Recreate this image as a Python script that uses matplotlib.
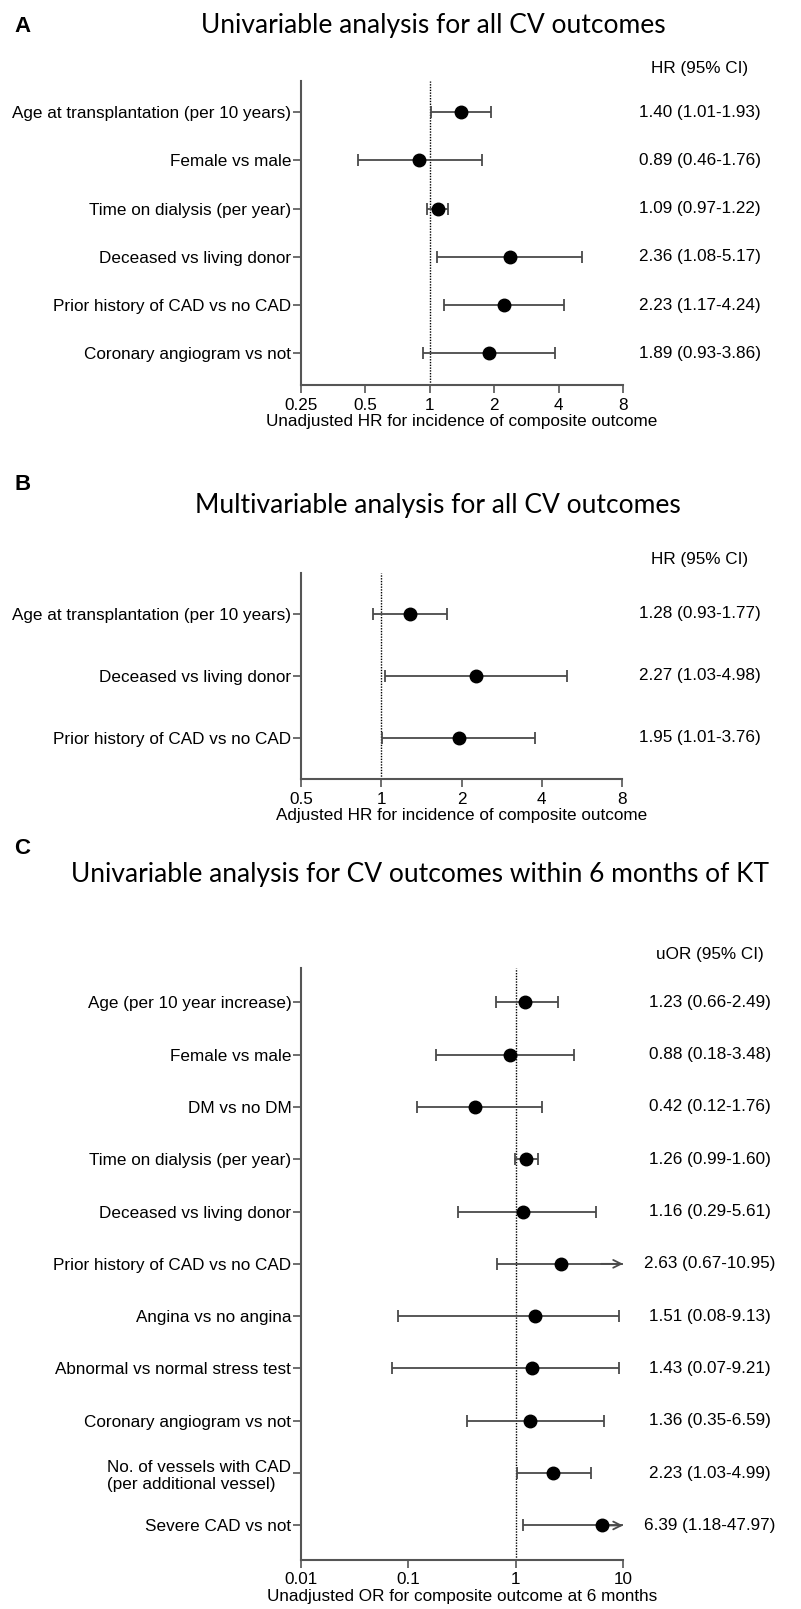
import numpy as np
import matplotlib
matplotlib.use("Agg")
import matplotlib.pyplot as plt
from matplotlib.transforms import blended_transform_factory

# ---------------------------------------------------------------- data
a_labels = ["Age at transplantation (per 10 years)", "Female vs male",
            "Time on dialysis (per year)", "Deceased vs living donor",
            "Prior history of CAD vs no CAD", "Coronary angiogram vs not"]
a_hr = [1.40, 0.89, 1.09, 2.36, 2.23, 1.89]
a_lo = [1.01, 0.46, 0.97, 1.08, 1.17, 0.93]
a_hi = [1.93, 1.76, 1.22, 5.17, 4.24, 3.86]
a_ticks = [0.25, 0.5, 1, 2, 4, 8]
a_ticklabels = ["0.25", "0.5", "1", "2", "4", "8"]

b_labels = ["Age at transplantation (per 10 years)", "Deceased vs living donor",
            "Prior history of CAD vs no CAD"]
b_hr = [1.28, 2.27, 1.95]
b_lo = [0.93, 1.03, 1.01]
b_hi = [1.77, 4.98, 3.76]
b_ticks = [0.5, 1, 2, 4, 8]
b_ticklabels = ["0.5", "1", "2", "4", "8"]

c_labels = ["Age (per 10 year increase)", "Female vs male", "DM vs no DM",
            "Time on dialysis (per year)", "Deceased vs living donor",
            "Prior history of CAD vs no CAD", "Angina vs no angina",
            "Abnormal vs normal stress test", "Coronary angiogram vs not",
            "No. of vessels with CAD\n(per additional vessel)", "Severe CAD vs not"]
c_or = [1.23, 0.88, 0.42, 1.26, 1.16, 2.63, 1.51, 1.43, 1.36, 2.23, 6.39]
c_lo = [0.66, 0.18, 0.12, 0.99, 0.29, 0.67, 0.08, 0.07, 0.35, 1.03, 1.18]
c_hi = [2.49, 3.48, 1.76, 1.60, 5.61, 10.95, 9.13, 9.21, 6.59, 4.99, 47.97]
c_ticks = [0.01, 0.1, 1, 10]
c_ticklabels = ["0.01", "0.1", "1", "10"]

# ---------------------------------------------------------------- style
W, H, DPI = 801, 1609, 100
BODY = ["Liberation Sans", "DejaVu Sans"]
TITLE = ["Lato", "DejaVu Sans"]
FS = 12.3
GREY = "#4a4a4a"
SPINE = "#555555"

fig = plt.figure(figsize=(W / DPI, H / DPI), dpi=DPI)
fig.patch.set_facecolor("white")


def px_axes(left, top, right, bottom):
    return fig.add_axes([left / W, 1 - bottom / H, (right - left) / W, (bottom - top) / H])


def fig_text(x, y, s, **kw):
    return fig.text(x / W, 1 - y / H, s, **kw)


def forest(ax, labels, est, lo, hi, xlim, base, ticks, ticklabels, xlabel,
           header, col_x, header_y):
    n = len(labels)
    rows = np.arange(1, n + 1)
    ax.set_xscale("log", base=base)
    ax.set_xlim(*xlim)
    ax.set_ylim(n + 0.66, 0.34)
    xmax = xlim[1]

    ax.axvline(1, color="black", ls=(0, (1, 1)), lw=1.0, zorder=1)

    colx = blended_transform_factory(ax.transAxes, ax.transData)
    for y, e, l, h in zip(rows, est, lo, hi):
        right = min(h, xmax)
        ax.plot([l, right], [y, y], color=GREY, lw=1.3, zorder=2,
                solid_capstyle="butt")
        ax.plot([l], [y], marker="|", ms=8.5, mew=1.3, color=GREY, zorder=2)
        if h <= xmax:
            ax.plot([h], [y], marker="|", ms=8.5, mew=1.3, color=GREY, zorder=2)
        else:
            ax.annotate("", xy=(xmax, y), xytext=(xmax / 1.6, y),
                        arrowprops=dict(arrowstyle="->", color=GREY, lw=1.3,
                                        shrinkA=0, shrinkB=0, mutation_scale=14),
                        annotation_clip=False, zorder=2)
        ax.plot([e], [y], "o", color="black", ms=9, zorder=3, clip_on=False)
        ax.text(col_x, y, f"{e:.2f} ({l:.2f}-{h:.2f})", transform=colx,
                ha="center", va="center", fontsize=FS, family=BODY, clip_on=False)

    ax.text(col_x, header_y, header, transform=colx, ha="center", va="center",
            fontsize=FS, family=BODY, clip_on=False)

    ax.set_yticks(rows)
    ax.set_yticklabels(labels, fontsize=FS, family=BODY)
    for t in ax.get_yticklabels():
        t.set_multialignment("left")
    ax.set_xticks(ticks)
    ax.set_xticklabels(ticklabels, fontsize=FS, family=BODY)
    ax.xaxis.set_minor_locator(matplotlib.ticker.NullLocator())
    ax.set_xlabel(xlabel, fontsize=FS, family=BODY, labelpad=1)

    for side in ("top", "right"):
        ax.spines[side].set_visible(False)
    for side in ("left", "bottom"):
        ax.spines[side].set_color(SPINE)
        ax.spines[side].set_linewidth(1.5)
    ax.tick_params(axis="both", direction="out", length=6, width=1.2,
                   color=SPINE, labelcolor="black")
    ax.tick_params(axis="y", pad=1)
    ax.tick_params(axis="x", pad=3)


# ---------------------------------------------------------------- panel A
ax_a = px_axes(301, 80.5, 623, 385)
forest(ax_a, a_labels, a_hr, a_lo, a_hi, (0.25, 8), 2, a_ticks, a_ticklabels,
       "Unadjusted HR for incidence of composite outcome",
       "HR (95% CI)", (700 - 301) / 322, 0.09)
fig_text(14, 27, "A", fontsize=16, fontweight="bold", family=BODY, va="center")
fig_text(433, 25, "Univariable analysis for all CV outcomes", fontsize=19,
         family=TITLE, ha="center", va="center")

# ---------------------------------------------------------------- panel B
ax_b = px_axes(301, 572.7, 622, 779)
forest(ax_b, b_labels, b_hr, b_lo, b_hi, (0.5, 8), 2, b_ticks, b_ticklabels,
       "Adjusted HR for incidence of composite outcome",
       "HR (95% CI)", (700 - 301) / 321, 0.13)
fig_text(14, 485, "B", fontsize=16, fontweight="bold", family=BODY, va="center")
fig_text(438, 505, "Multivariable analysis for all CV outcomes", fontsize=19,
         family=TITLE, ha="center", va="center")

# ---------------------------------------------------------------- panel C
ax_c = px_axes(301, 967.7, 623, 1560)
forest(ax_c, c_labels, c_or, c_lo, c_hi, (0.01, 10), 10, c_ticks, c_ticklabels,
       "Unadjusted OR for composite outcome at 6 months",
       "uOR (95% CI)", (710 - 301) / 322, 0.094)
fig_text(14, 849, "C", fontsize=16, fontweight="bold", family=BODY, va="center")
fig_text(420, 874, "Univariable analysis for CV outcomes within 6 months of KT",
         fontsize=19, family=TITLE, ha="center", va="center")

fig.savefig("out.png", dpi=DPI)
